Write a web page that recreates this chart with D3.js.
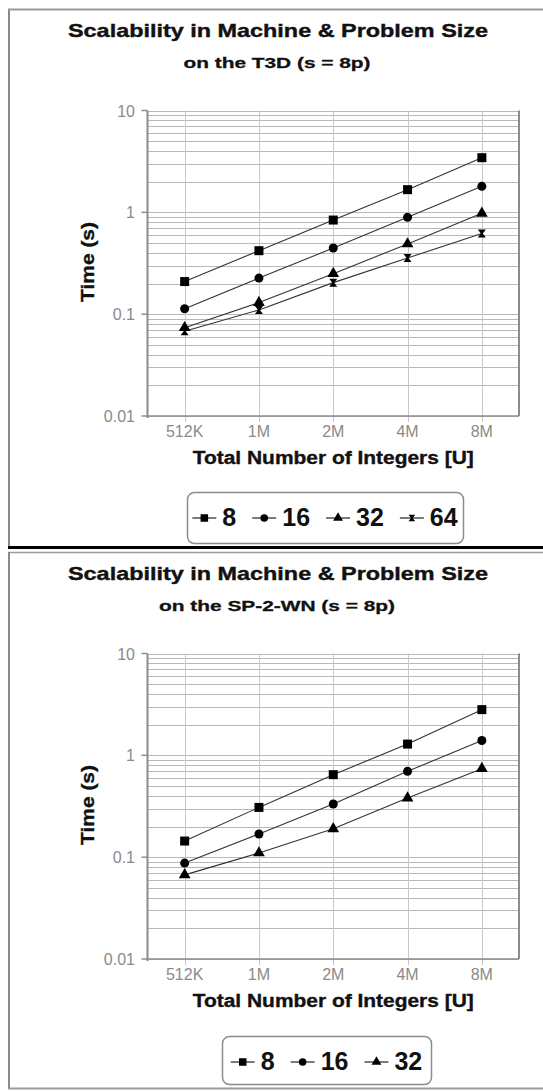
<!DOCTYPE html>
<html><head><meta charset="utf-8">
<script src="https://cdn.jsdelivr.net/npm/d3@7"></script>
<style>body{margin:0;background:#fff}svg{display:block}text{font-family:"Liberation Sans",Arial,sans-serif}</style>
</head><body><svg id="c" width="543" height="1091"></svg>
<script>
const categories = ["512K","1M","2M","4M","8M"];
const yTickValues = [0.01, 0.1, 1, 10];
const yTickLabels = ["0.01", "0.1", "1", "10"];
const mainTitle = "Scalability in Machine & Problem Size";
const subTitle1 = "on the T3D (s = 8p)";
const subTitle2 = "on the SP-2-WN (s = 8p)";
const xTitle = "Total Number of Integers [U]";
const yTitle = "Time (s)";

const seriesNames1 = ["8", "16", "32", "64"];
const t3d8  = [0.209, 0.42, 0.84, 1.67, 3.44];
const t3d16 = [0.113, 0.226, 0.446, 0.893, 1.80];
const t3d32 = [0.0736, 0.130, 0.25, 0.489, 0.978];
const t3d64 = [0.068, 0.11, 0.204, 0.356, 0.621];

const seriesNames2 = ["8", "16", "32"];
const sp8  = [0.144, 0.308, 0.646, 1.29, 2.81];
const sp16 = [0.0875, 0.169, 0.333, 0.696, 1.40];
const sp32 = [0.067, 0.110, 0.19, 0.381, 0.74];

const hourglass = {
  draw(ctx, size) {
    const r = Math.sqrt(size) / 2;
    ctx.moveTo(-r, -r); ctx.lineTo(r, -r); ctx.lineTo(r*0.25, 0);
    ctx.lineTo(r, r); ctx.lineTo(-r, r); ctx.lineTo(-r*0.25, 0); ctx.closePath();
  }
};
const markerTypes = [d3.symbolSquare, d3.symbolCircle, d3.symbolTriangle, hourglass];
const markerSizes = [81, 64, 60, 64];

const svg = d3.select("#c");
const GRID = "#b8b8b8", AXIS = "#8c8c8c", TICKTXT = "#8a8a8a";

function drawPanel(dy, subtitle, names, data, legendBox) {
  const g = svg.append("g").attr("transform", `translate(0,${dy})`);
  const x = d3.scalePoint().domain(categories).range([147.5, 519]).padding(0.5);
  const y = d3.scaleLog().domain([0.01, 10]).range([416, 110.5]);
  const [x0, x1] = x.range();
  const [yb, yt] = y.range();

  // titles
  g.append("text").attr("x", 278).attr("y", 37).attr("text-anchor", "middle")
    .attr("font-size", 19).attr("font-weight", "bold").attr("fill", "#111")
    .attr("stroke", "#111").attr("stroke-width", 0.4)
    .attr("textLength", 420).attr("lengthAdjust", "spacingAndGlyphs").text(mainTitle);
  const subLen = subtitle === subTitle1 ? 187 : 236;
  g.append("text").attr("x", 277).attr("y", 68).attr("text-anchor", "middle")
    .attr("font-size", 15).attr("font-weight", "bold").attr("fill", "#111")
    .attr("stroke", "#111").attr("stroke-width", 0.3)
    .attr("textLength", subLen).attr("lengthAdjust", "spacingAndGlyphs").text(subtitle);

  // horizontal gridlines
  g.append("g").selectAll("line").data(y.ticks()).join("line")
    .attr("x1", x0).attr("x2", x1).attr("y1", d => Math.round(y(d)) + 0.5).attr("y2", d => Math.round(y(d)) + 0.5)
    .attr("stroke", GRID).attr("stroke-width", 1);
  // vertical gridlines + ticks
  g.append("g").selectAll("line").data(categories).join("line")
    .attr("x1", d => Math.round(x(d)) + 0.5).attr("x2", d => Math.round(x(d)) + 0.5)
    .attr("y1", yt).attr("y2", yb + 6)
    .attr("stroke", "#c8c8c8").attr("stroke-width", 1);
  // frame
  g.append("line").attr("x1", x0).attr("x2", x0).attr("y1", yt).attr("y2", yb + 2).attr("stroke", AXIS).attr("stroke-width", 2);
  g.append("line").attr("x1", x1).attr("x2", x1).attr("y1", yt).attr("y2", yb).attr("stroke", AXIS).attr("stroke-width", 2);
  g.append("line").attr("x1", x0).attr("x2", x1).attr("y1", yb).attr("y2", yb).attr("stroke", AXIS).attr("stroke-width", 1.5);
  // y ticks
  g.append("g").selectAll("line").data(yTickValues).join("line")
    .attr("x1", x0 - 6).attr("x2", x0).attr("y1", d => y(d)).attr("y2", d => y(d))
    .attr("stroke", AXIS).attr("stroke-width", 1.5);
  g.append("g").selectAll("text").data(yTickValues).join("text")
    .attr("x", 135).attr("y", d => y(d) + 6).attr("text-anchor", "end")
    .attr("font-size", 16).attr("fill", TICKTXT).text((d, i) => yTickLabels[i]);
  // x tick labels
  g.append("g").selectAll("text").data(categories).join("text")
    .attr("x", d => x(d)).attr("y", 437).attr("text-anchor", "middle")
    .attr("font-size", 16).attr("fill", TICKTXT).text(d => d);
  // axis titles
  g.append("text").attr("x", (x0 + x1) / 2).attr("y", 464).attr("text-anchor", "middle")
    .attr("font-size", 18).attr("font-weight", "bold").attr("fill", "#111")
    .attr("stroke", "#111").attr("stroke-width", 0.35)
    .attr("textLength", 281).attr("lengthAdjust", "spacingAndGlyphs").text(xTitle);
  g.append("text").attr("transform", "translate(94,262) rotate(-90)").attr("text-anchor", "middle")
    .attr("font-size", 18).attr("font-weight", "bold").attr("fill", "#111")
    .attr("stroke", "#111").attr("stroke-width", 0.35)
    .attr("textLength", 80).attr("lengthAdjust", "spacingAndGlyphs").text(yTitle);

  // series
  const line = d3.line().x((d, i) => x(categories[i])).y(d => y(d));
  data.forEach((vals, si) => {
    g.append("path").attr("d", line(vals)).attr("fill", "none").attr("stroke", "#333").attr("stroke-width", 1.1);
  });
  data.forEach((vals, si) => {
    const sym = d3.symbol().type(markerTypes[si]).size(markerSizes[si]);
    g.append("g").selectAll("path").data(vals).join("path")
      .attr("transform", (d, i) => `translate(${x(categories[i])},${y(d)})`)
      .attr("d", sym()).attr("fill", "#000");
  });

  // legend
  const lg = g.append("g");
  lg.append("rect").attr("x", legendBox[0] + 0.5).attr("y", legendBox[1] + 0.5)
    .attr("width", legendBox[2] - legendBox[0]).attr("height", legendBox[3] - legendBox[1])
    .attr("rx", 7).attr("fill", "#fff").attr("stroke", "#8c8c8c").attr("stroke-width", 1.5);
  const items = lg.append("g");
  let cx = 0;
  const gap = 16, lineW = 24, baseline = legendBox[1] + 34;
  names.forEach((nm, si) => {
    const it = items.append("g").attr("transform", `translate(${cx},0)`);
    it.append("line").attr("x1", 0).attr("x2", lineW).attr("y1", baseline - 8).attr("y2", baseline - 8)
      .attr("stroke", "#222").attr("stroke-width", 1.2);
    it.append("path").attr("transform", `translate(${lineW / 2},${baseline - 8})`)
      .attr("d", d3.symbol().type(markerTypes[si]).size(markerSizes[si] * 0.7)()).attr("fill", "#000");
    const t = it.append("text").attr("x", lineW + 6).attr("y", baseline)
      .attr("font-size", 25).attr("font-weight", "bold").attr("fill", "#111").text(nm);
    cx += lineW + 6 + t.node().getComputedTextLength() + gap;
  });
  const total = cx - gap;
  const startX = (legendBox[0] + legendBox[2]) / 2 - total / 2;
  items.attr("transform", `translate(${startX},0)`);
}

// panel borders
svg.append("line").attr("x1", 9).attr("x2", 9).attr("y1", 9).attr("y2", 548).attr("stroke", "#8a8a8a").attr("stroke-width", 2);
svg.append("line").attr("x1", 8).attr("x2", 543).attr("y1", 9.5).attr("y2", 9.5).attr("stroke", "#9a9a9a").attr("stroke-width", 2);
svg.append("rect").attr("x", 8).attr("y", 546).attr("width", 535).attr("height", 3).attr("fill", "#000");
svg.append("line").attr("x1", 8).attr("x2", 543).attr("y1", 552.5).attr("y2", 552.5).attr("stroke", "#9a9a9a").attr("stroke-width", 1.5);
svg.append("line").attr("x1", 9).attr("x2", 9).attr("y1", 552).attr("y2", 1089).attr("stroke", "#8a8a8a").attr("stroke-width", 2);
svg.append("line").attr("x1", 8).attr("x2", 543).attr("y1", 1088.5).attr("y2", 1088.5).attr("stroke", "#9a9a9a").attr("stroke-width", 2);

drawPanel(0, subTitle1, seriesNames1, [t3d8, t3d16, t3d32, t3d64], [187, 492, 463, 543]);
drawPanel(543, subTitle2, seriesNames2, [sp8, sp16, sp32], [222, 493, 431, 541]);
</script></body></html>
